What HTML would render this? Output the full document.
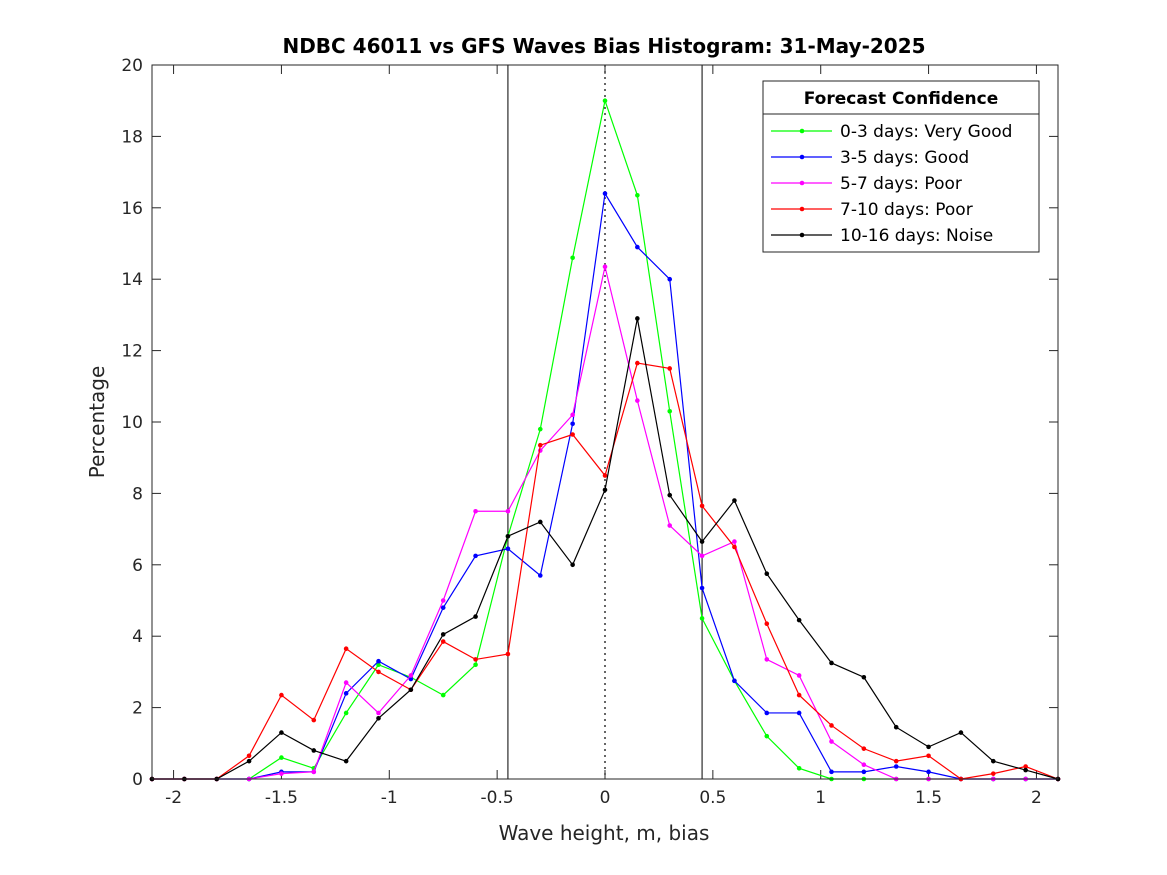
<!DOCTYPE html>
<html><head><meta charset="utf-8"><style>
html,body{margin:0;padding:0;background:#fff;}
svg{display:block;font-family:"DejaVu Sans","Liberation Sans",sans-serif;}
</style></head><body>
<svg id="chart" width="1167" height="875" viewBox="0 0 1167 875" xmlns="http://www.w3.org/2000/svg">
<rect width="1167" height="875" fill="#fff"/>
<text x="604" y="53" text-anchor="middle" font-size="20" font-weight="bold">NDBC 46011 vs GFS Waves Bias Histogram: 31-May-2025</text>
<text x="604" y="840" text-anchor="middle" font-size="20" fill="#262626">Wave height, m, bias</text>
<text transform="translate(104,422) rotate(-90)" text-anchor="middle" font-size="20" fill="#262626">Percentage</text>
<g id="grid"></g>
<g id="series"></g>
<rect x="152" y="65" width="906" height="714" fill="none" stroke="#262626" stroke-width="1"/>
<g id="legend">
<rect x="763" y="81" width="276" height="171" fill="#fff" stroke="#262626" stroke-width="1"/>
<line x1="763" y1="114" x2="1039" y2="114" stroke="#262626"/>
<text x="901" y="104" text-anchor="middle" font-size="17" font-weight="bold">Forecast Confidence</text>
</g>
</svg>
<script>
const xValues=[-2.1,-1.95,-1.8,-1.65,-1.5,-1.35,-1.2,-1.05,-0.9,-0.75,-0.6,-0.45,-0.3,-0.15,0,0.15,0.3,0.45,0.6,0.75,0.9,1.05,1.2,1.35,1.5,1.65,1.8,1.95,2.1];
const green=[0,0,0,0,0.6,0.3,1.85,3.2,2.85,2.35,3.2,6.8,9.8,14.6,19,16.35,10.3,4.5,2.75,1.2,0.3,0,0,0,0,0,0,0,0];
const blue=[0,0,0,0,0.2,0.2,2.4,3.3,2.8,4.8,6.25,6.45,5.7,9.95,16.4,14.9,14.0,5.35,2.75,1.85,1.85,0.2,0.2,0.35,0.2,0,0,0,0];
const magenta=[0,0,0,0,0.15,0.2,2.7,1.85,2.9,5.0,7.5,7.5,9.2,10.2,14.35,10.6,7.1,6.25,6.65,3.35,2.9,1.05,0.4,0,0,0,0,0,0];
const red=[0,0,0,0.65,2.35,1.65,3.65,3.0,2.5,3.85,3.35,3.5,9.35,9.65,8.5,11.65,11.5,7.65,6.5,4.35,2.35,1.5,0.85,0.5,0.65,0,0.15,0.35,0];
const black=[0,0,0,0.5,1.3,0.8,0.5,1.7,2.5,4.05,4.55,6.8,7.2,6.0,8.1,12.9,7.95,6.65,7.8,5.75,4.45,3.25,2.85,1.45,0.9,1.3,0.5,0.25,0];
const seriesNames=["0-3 days: Very Good","3-5 days: Good","5-7 days: Poor","7-10 days: Poor","10-16 days: Noise"];
const xTicks=[-2,-1.5,-1,-0.5,0,0.5,1,1.5,2];
const xTickLabels=["-2","-1.5","-1","-0.5","0","0.5","1","1.5","2"];
const yTicks=[0,2,4,6,8,10,12,14,16,18,20];
const refLines=[-0.45,0.45];

const NS="http://www.w3.org/2000/svg";
const L=152,R=1058,T=65,B=779;
const sx=v=>L+(v+2.1)/4.2*(R-L);
const sy=v=>B-v/20*(B-T);
function mk(tag,attrs,parent){const e=document.createElementNS(NS,tag);for(const k in attrs)e.setAttribute(k,attrs[k]);parent.appendChild(e);return e;}
const grid=document.getElementById('grid');
xTicks.forEach((t,i)=>{
  const x=sx(t);
  const a=mk('line',{x1:x,x2:x,y1:B,y2:B-9,stroke:'#262626'},grid);
  
  mk('line',{x1:x,x2:x,y1:T,y2:T+9,stroke:'#262626'},grid);
  const tx=mk('text',{x:x,y:B+24,'text-anchor':'middle','font-size':'17',fill:'#262626'},grid);
  
  
  tx.textContent=xTickLabels[i];
});
yTicks.forEach(t=>{
  const y=sy(t);
  const a=mk('line',{x1:L,x2:L+9,y1:y,y2:y,stroke:'#262626'},grid);
  
  mk('line',{x1:R,x2:R-9,y1:y,y2:y,stroke:'#262626'},grid);
  const tx=mk('text',{x:L-9,y:y+6,'text-anchor':'end','font-size':'17',fill:'#262626'},grid);
  
  
  tx.textContent=String(t);
});
refLines.forEach(v=>{
  const l=mk('line',{x1:sx(v),x2:sx(v),y1:T,y2:B,stroke:'#000','stroke-width':1},grid);
  
  
});
const z=mk('line',{x1:sx(0),x2:sx(0),y1:T,y2:B,stroke:'#000','stroke-width':1.2,'stroke-dasharray':'2,4'},grid);



const data=[green,blue,magenta,red,black];
const colors=['#00ff00','#0000ff','#ff00ff','#ff0000','#000000'];
const sg=document.getElementById('series');
data.forEach((vals,si)=>{
  const g=mk('g',{},sg);
  
  
  const pts=vals.map((v,i)=>sx(xValues[i])+','+sy(v)).join(' ');
  const pl=mk('polyline',{points:pts,fill:'none',stroke:colors[si],'stroke-width':1.2},g);
  
  
  vals.forEach((v,i)=>{
    const c=mk('circle',{cx:sx(xValues[i]),cy:sy(v),r:2.3,fill:colors[si]},g);
    
    
  });
});
const lg=document.getElementById('legend');
seriesNames.forEach((n,i)=>{
  const y=131+i*26;
  const g=mk('g',{},lg);
  
  
  mk('line',{x1:771,x2:832,y1:y,y2:y,stroke:colors[i],'stroke-width':1.2},g);
  mk('circle',{cx:802,cy:y,r:2.3,fill:colors[i]},g);
  const t=mk('text',{x:840,y:y+6,'font-size':'17',fill:'#000'},g);
  t.textContent=n;
});
</script>
</body></html>
